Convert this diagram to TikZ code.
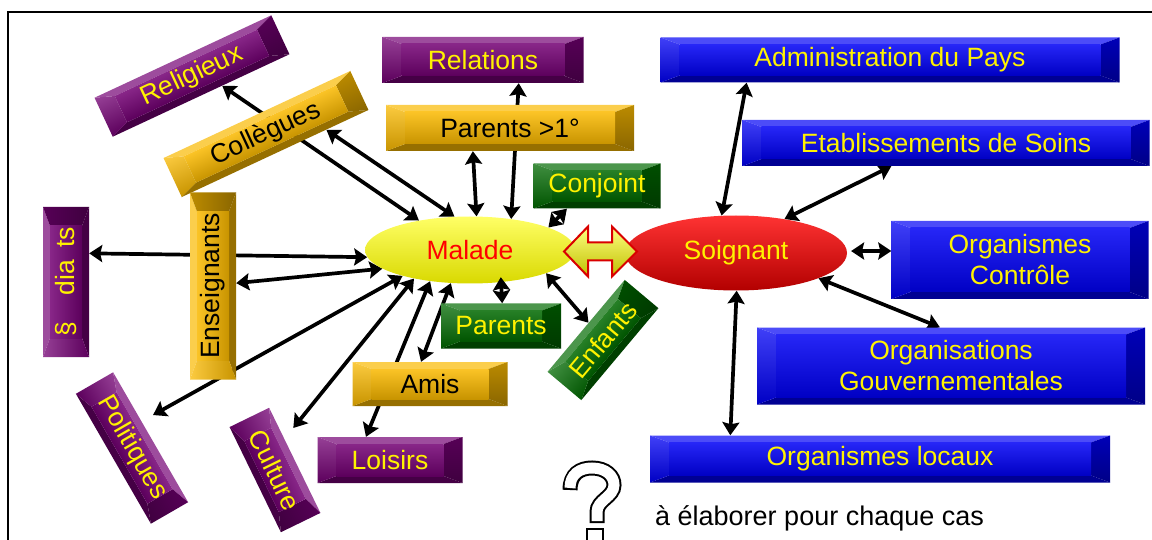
\documentclass[tikz,border=0pt]{standalone}
\usepackage{fontspec}
\setmainfont{Liberation Sans}
\usetikzlibrary{shapes.geometric,arrows.meta,calc}
\pgfdeclarelayer{background}
\pgfsetlayers{background,main}

\definecolor{purpbox}{RGB}{115,0,115}
\definecolor{orbox}{RGB}{250,185,0}
\definecolor{grbox}{RGB}{0,105,0}
\definecolor{blbox}{RGB}{0,0,245}

\tikzset{
  boxtext/.style={inner sep=0pt, font=\fontsize{26.5}{31}\selectfont, align=center},
  link/.style={<->, line width=3.7pt},
}

% bevelled box: name, x, y, width, height, angle, colour, text colour, text
\newcommand{\bevbox}[9]{%
  \begin{scope}[transform canvas={shift={(#2,#3)},rotate=#6}]
    \pgfmathsetmacro\bw{#4/2}
    \pgfmathsetmacro\bh{#5/2}
    \pgfmathsetmacro\bx{#4/2-19}
    \pgfmathsetmacro\by{#5/2-7}
    \fill[#7!70!white] (-\bw,-\bh) -- (\bw,-\bh) -- (\bx,-\by) -- (-\bx,-\by) -- cycle;
    \fill[#7!60!black] (-\bw,\bh) -- (\bw,\bh) -- (\bx,\by) -- (-\bx,\by) -- cycle;
    \shade[top color=#7!75!white, bottom color=#7!80!black] (-\bw,-\bh) -- (-\bx,-\by) -- (-\bx,\by) -- (-\bw,\bh) -- cycle;
    \shade[top color=#7!75!black, bottom color=#7!55!black] (\bw,-\bh) -- (\bx,-\by) -- (\bx,\by) -- (\bw,\bh) -- cycle;
    \shade[top color=#7!85!white, middle color=#7, bottom color=#7!80!black] (-\bx,-\by) rectangle (\bx,\by);
  \end{scope}
  \node[boxtext, text=#8, minimum width=#4pt, minimum height=#5pt, rotate=#6] (#1) at (#2,#3) {#9};
}

\begin{document}
\begin{tikzpicture}[x=1pt,y=-1pt,>={Stealth[length=13pt,width=17pt,inset=2pt]}]
  \useasboundingbox (0,0) rectangle (1152,540);
  \draw[line width=1.5pt] (8,540) -- (8,12) -- (1152,12);

  % left family
  \bevbox{religieux}{192}{76}{195}{43}{25}{purpbox}{yellow}{Religieux}
  \bevbox{collegues}{266}{134}{206}{43}{25}{orbox}{black}{Collègues}
  \bevbox{relations}{483}{60}{201}{46}{0}{purpbox}{yellow}{Relations}
  \bevbox{parentsun}{510}{128}{248}{46}{0}{orbox}{black}{Parents >1°}
  \bevbox{conjoint}{597}{186}{127}{45}{0}{grbox}{yellow}{Conjoint}
  \bevbox{parents}{501}{326}{120}{45}{0}{grbox}{yellow}{Parents}
  \bevbox{enfants}{603}{340}{120}{44}{50}{grbox}{yellow}{Enfants}
  \bevbox{medias}{66}{282}{150}{46}{90}{purpbox}{yellow}{§\hspace{27pt}dia\hspace{12pt}ts}
  \bevbox{enseignants}{213}{286}{187}{46}{90}{orbox}{black}{Enseignants}
  \bevbox{politiques}{132}{448}{150}{43}{-60}{purpbox}{yellow}{Politiques}
  \bevbox{culture}{275}{470}{117}{44}{-64}{purpbox}{yellow}{Culture}
  \bevbox{amis}{430}{384}{155}{44}{0}{orbox}{black}{Amis}
  \bevbox{loisirs}{390}{460}{145}{46}{0}{purpbox}{yellow}{Loisirs}

  % right family
  \bevbox{admin}{890}{60}{459}{45}{0}{blbox}{yellow}{Administration du Pays}
  \bevbox{etab}{946}{143}{407}{46}{0}{blbox}{yellow}{Etablissements de Soins}
  \bevbox{controle}{1020}{260}{257}{78}{0}{blbox}{yellow}{Organismes\\Contrôle}
  \bevbox{gouv}{951}{366}{388}{77}{0}{blbox}{yellow}{Organisations\\Gouvernementales}
  \bevbox{locaux}{880}{459}{460}{47}{0}{blbox}{yellow}{Organismes locaux}

  \node[boxtext, ellipse, minimum width=210pt, minimum height=67pt, text=red,
        top color=yellow!60!white, middle color=yellow, bottom color=yellow!85!black] (malade) at (470,250) {Malade};
  \node[boxtext, ellipse, minimum width=222pt, minimum height=75pt, text=yellow,
        top color=red!80!white, middle color=red, bottom color=red!70!black] (soignant) at (736,253) {Soignant};

  % fat double arrow
  \coordinate (mid) at ($(malade.east)!0.5!(soignant.west)$);
  \path[draw=red!85!black, line width=2pt, top color=yellow!50!white, middle color=yellow, bottom color=yellow!75!black]
    ([shift={(-36,0)}]mid) -- ([shift={(-12,-25)}]mid) -- ([shift={(-12,-9)}]mid) -- ([shift={(12,-9)}]mid)
    -- ([shift={(12,-25)}]mid) -- ([shift={(37,0)}]mid) -- ([shift={(12,25)}]mid) -- ([shift={(12,9)}]mid)
    -- ([shift={(-12,9)}]mid) -- ([shift={(-12,25)}]mid) -- cycle;

  \draw[link, shorten <=-5pt] (malade.-46) -- (parents.87);

  \begin{pgfonlayer}{background}
    \draw[link] (malade.150) -- (religieux.-43);
    \draw[link] (malade.115) -- (collegues.-21);
    \draw[link] (malade.79) -- (parentsun.212);
    \draw[link] (malade.37) -- (relations.-33);
    \draw[link] (malade.16) -- (conjoint.-143);
    \draw[link] (malade.-17) -- (enfants.80);
    \draw[link] (malade.184) -- (medias.-39);
    \draw[link] (malade.192) -- (enseignants.-83);
    \draw[link, shorten >=13pt] (malade.201) -- (politiques.130);
    \draw[link, shorten >=14pt] (malade.207) -- (culture.137);
    \draw[link] (malade.218) -- (loisirs.136);
    \draw[link] (malade.240) -- (amis.112);
    \draw[link] (soignant.111) -- (admin.189);
    \draw[link] (soignant.35) -- (etab.203);
    \draw[link, shorten <=4pt] (soignant.1) -- (controle.176);
    \draw[link] (soignant.-17) -- (gouv.106);
    \draw[link] (soignant.-89) -- (locaux.171);
  \end{pgfonlayer}

  % question mark
  \draw[line width=15pt] (570,490) .. controls (570,474) and (580,468) .. (592,468)
    .. controls (606,468) and (614,476) .. (614,485) .. controls (614,497) and (597,500) .. (597,512) -- (597,523);
  \draw[line width=11pt, white, shorten <=2pt, shorten >=2pt] (570,490) .. controls (570,474) and (580,468) .. (592,468)
    .. controls (606,468) and (614,476) .. (614,485) .. controls (614,497) and (597,500) .. (597,512) -- (597,523);
  \draw[line width=2pt, fill=white] (587,529) rectangle (603,546);
  \node[anchor=base west, inner sep=0pt, font=\fontsize{27}{32}\selectfont] (note) at (655,525) {à élaborer pour chaque cas};
\end{tikzpicture}
\end{document}
